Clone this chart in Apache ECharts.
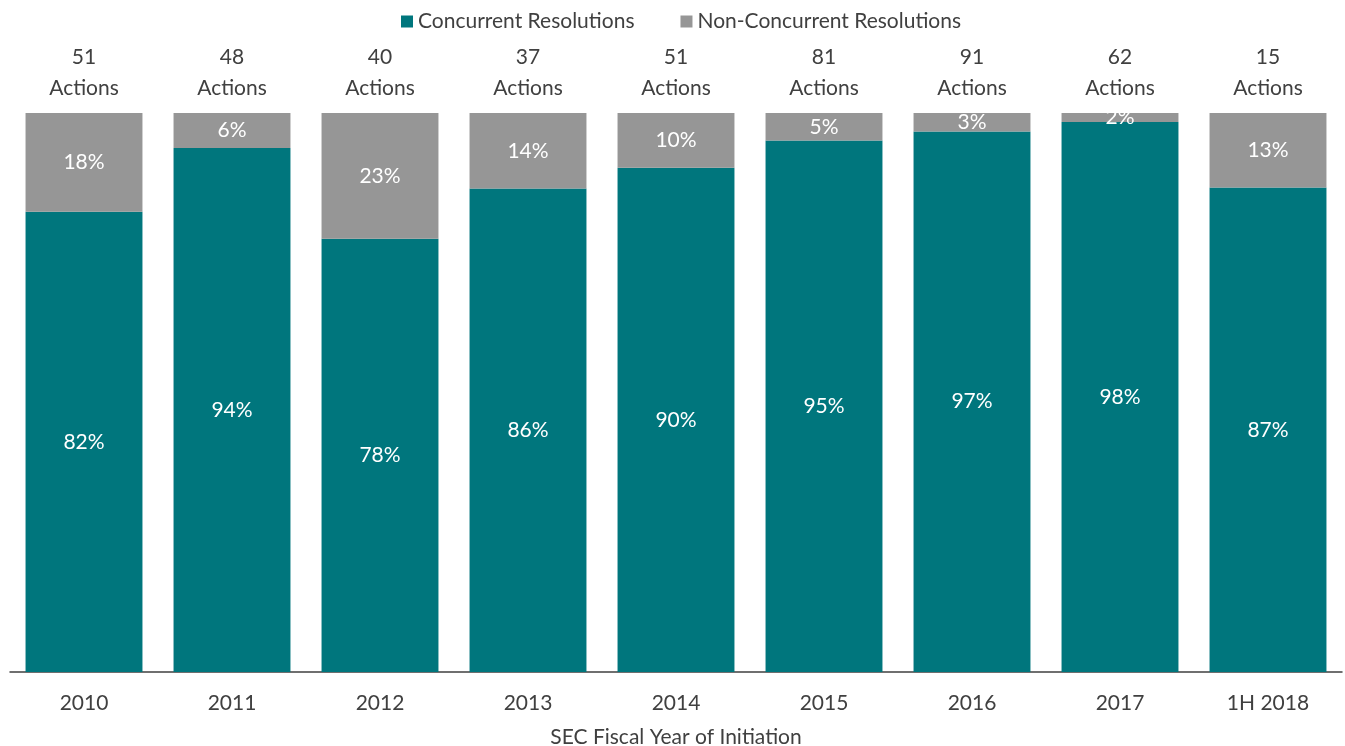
<!DOCTYPE html>
<html>
<head>
<meta charset="utf-8">
<script src="https://cdn.jsdelivr.net/npm/echarts@6/dist/echarts.min.js"></script>
<style>
  html, body { margin: 0; padding: 0; background: #fff; }
  #myChart { width: 1345px; height: 746px; }
</style>
</head>
<body>
<div id="myChart"></div>
<script>
// fiscal years
const years = ["2010", "2011", "2012", "2013", "2014", "2015", "2016", "2017", "1H 2018"];
// number of actions per year (labels above bars)
const totalActions = [51, 48, 40, 37, 51, 81, 91, 62, 15];
// counts per resolution type
const concurrentCounts = [42, 45, 31, 32, 46, 77, 88, 61, 13];
const nonConcurrentCounts = [9, 3, 9, 5, 5, 4, 3, 1, 2];

const FONT = "Lato, sans-serif";
const TEXT = "#404040";
const SIZE = 21;

// share of each year's actions, in percent
const share = (arr) => arr.map((v, i) => (v / totalActions[i]) * 100);

let myChart = echarts.init(document.getElementById("myChart"));
myChart.setOption({
  animation: false,
  textStyle: { fontFamily: FONT },
  legend: {
    top: 6,
    left: 396,
    itemWidth: 12,
    itemHeight: 12,
    itemGap: 46,
    icon: "rect",
    textStyle: { fontSize: SIZE, color: TEXT, fontFamily: FONT },
  },
  grid: {
    left: 10,
    right: 3,
    top: 113,
    bottom: 74,
    outerBoundsMode: "none",
  },
  xAxis: [
    {
      type: "category",
      data: years,
      axisLine: { lineStyle: { color: "#404040", width: 1.5 } },
      axisTick: { length: 8, lineStyle: { color: "#404040" } },
      axisLabel: { fontSize: SIZE, color: TEXT, margin: 21, fontFamily: FONT },
      name: "SEC Fiscal Year of Initiation",
      nameLocation: "middle",
      nameGap: 55,
      nameTextStyle: { fontSize: SIZE, color: TEXT, fontFamily: FONT },
    },
    {
      type: "category",
      data: years,
      position: "top",
      axisLine: { show: false },
      axisTick: { show: false },
      axisLabel: {
        interval: 0,
        margin: 9,
        fontSize: SIZE,
        lineHeight: 31,
        color: TEXT,
        fontFamily: FONT,
        formatter: (v, i) => totalActions[i] + "\nActions",
      },
    },
  ],
  yAxis: {
    type: "value",
    min: 0,
    max: 100,
    show: false,
  },
  series: [
    {
      name: "Concurrent Resolutions",
      type: "bar",
      stack: "all",
      barCategoryGap: "21%",
      data: share(concurrentCounts),
      itemStyle: { color: "#00767D" },
      label: {
        show: true,
        position: "inside",
        color: "#fff",
        fontSize: SIZE,
        fontFamily: FONT,
        formatter: (p) => Math.round(p.value) + "%",
      },
    },
    {
      name: "Non-Concurrent Resolutions",
      type: "bar",
      stack: "all",
      data: share(nonConcurrentCounts),
      itemStyle: { color: "#969696" },
      label: {
        show: true,
        position: "inside",
        color: "#fff",
        fontSize: SIZE,
        fontFamily: FONT,
        formatter: (p) => Math.round(p.value) + "%",
      },
    },
  ],
});
</script>
</body>
</html>
